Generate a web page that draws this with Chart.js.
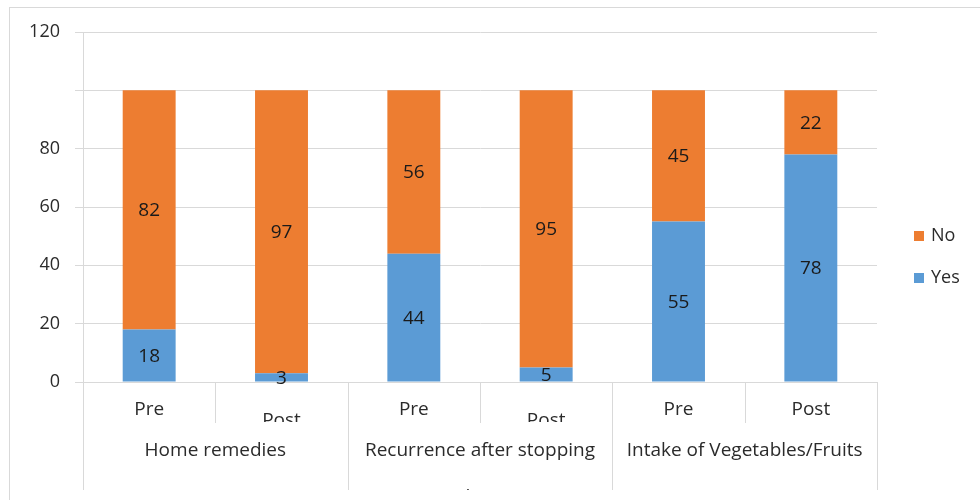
<!DOCTYPE html>
<html>
<head>
<meta charset="utf-8">
<script src="https://cdn.jsdelivr.net/npm/chart.js@4.4.0/dist/chart.umd.min.js"></script>
<style>
  body { margin: 0; background: #fff; }
</style>
</head>
<body>
<canvas id="myChart" width="980" height="500"></canvas>
<script>
// data
var groups = ['Home remedies', 'Recurrence after stopping', 'Intake of Vegetables/Fruits'];
var groupLine2 = ['', 'medication', ''];
var phases = ['Pre', 'Post', 'Pre', 'Post', 'Pre', 'Post'];
var yesData = [18, 3, 44, 5, 55, 78];
var noData = [82, 97, 56, 95, 45, 22];
var hiddenTick = 100;

var FONT = "'Open Sans', sans-serif";
var TXT = '#2b2b2b';

// labels inside bars, group labels, legend, frame
var extras = {
  id: 'extras',
  beforeDraw: function (chart) {
    var ctx = chart.ctx;
    ctx.save();
    ctx.strokeStyle = '#d9d9d9';
    ctx.lineWidth = 1;
    ctx.strokeRect(9.5, 7.5, 1100, 1100);
    ctx.restore();
  },
  afterDraw: function (chart) {
    var ctx = chart.ctx;
    var x = chart.scales.x;
    var area = chart.chartArea;
    ctx.save();

    // value labels
    ctx.font = '19px ' + FONT;
    ctx.fillStyle = '#1a1a1a';
    ctx.textAlign = 'center';
    ctx.textBaseline = 'middle';
    chart.data.datasets.forEach(function (ds, di) {
      chart.getDatasetMeta(di).data.forEach(function (el, i) {
        ctx.fillText(ds.data[i], el.x, (el.y + el.base) / 2 + 1);
      });
    });

    // separators
    ctx.strokeStyle = '#d9d9d9';
    ctx.lineWidth = 1;
    var bottom = area.bottom;
    for (var i = 0; i <= phases.length; i++) {
      var px;
      if (i == 0) px = x.left;
      else if (i == phases.length) px = x.right;
      else px = (x.getPixelForValue(i - 1) + x.getPixelForValue(i)) / 2;
      px = Math.round(px) + 0.5;
      ctx.beginPath();
      ctx.moveTo(px, bottom);
      ctx.lineTo(px, i % 2 == 0 ? 490 : bottom + 41);
      ctx.stroke();
    }

    // Pre / Post row
    ctx.fillStyle = TXT;
    ctx.font = '19px ' + FONT;
    phases.forEach(function (p, i) {
      var cx = x.getPixelForValue(i);
      ctx.save();
      ctx.beginPath();
      ctx.rect(cx - 60, bottom + 1, 120, 39);
      ctx.clip();
      var dy = (p == 'Post' && i < 4) ? 39 : 28;
      ctx.fillText(p, cx, bottom + dy);
      ctx.restore();
    });

    // group row
    groups.forEach(function (g, gi) {
      var cx = (x.getPixelForValue(gi * 2) + x.getPixelForValue(gi * 2 + 1)) / 2;
      ctx.fillText(g, cx, bottom + 69);
      if (groupLine2[gi]) {
        ctx.save();
        ctx.beginPath();
        ctx.rect(cx - 130, 470, 260, 20);
        ctx.clip();
        ctx.fillText(groupLine2[gi], cx, bottom + 116);
        ctx.restore();
      }
    });

    // legend (No above Yes)
    ctx.textAlign = 'left';
    ctx.font = '18px ' + FONT;
    var items = chart.data.datasets.slice().reverse();
    items.forEach(function (ds, k) {
      var ly = 236 + k * 42;
      ctx.fillStyle = ds.backgroundColor;
      ctx.fillRect(914, ly - 5, 10, 10);
      ctx.fillStyle = TXT;
      ctx.fillText(ds.label, 931, ly);
    });

    ctx.restore();
  }
};

var ctx = document.getElementById('myChart').getContext('2d');
var myChart = new Chart(ctx, {
  type: 'bar',
  data: {
    labels: phases,
    datasets: [
      {
        label: 'Yes',
        data: yesData,
        backgroundColor: '#5B9BD5'
      },
      {
        label: 'No',
        data: noData,
        backgroundColor: '#ED7D31'
      }
    ]
  },
  options: {
    responsive: false,
    animation: false,
    events: [],
    layout: {
      padding: { top: 32, right: 103, left: 0, bottom: 0 }
    },
    datasets: {
      bar: { categoryPercentage: 1, barPercentage: 0.4 }
    },
    plugins: {
      legend: { display: false },
      tooltip: { enabled: false }
    },
    scales: {
      x: {
        stacked: true,
        grid: { display: false },
        border: { color: '#d9d9d9' },
        ticks: { display: false },
        afterFit: function (scale) { scale.height = 118; }
      },
      y: {
        stacked: true,
        min: 0,
        max: 120,
        ticks: {
          stepSize: 20,
          padding: 15,
          color: TXT,
          font: { size: 18, family: FONT },
          callback: function (v) { return v == hiddenTick ? '' : v; }
        },
        grid: { color: '#d9d9d9', tickLength: 8 },
        border: { color: '#d9d9d9' },
        afterFit: function (scale) { scale.width = 83; }
      }
    }
  },
  plugins: [extras]
});
</script>
</body>
</html>
